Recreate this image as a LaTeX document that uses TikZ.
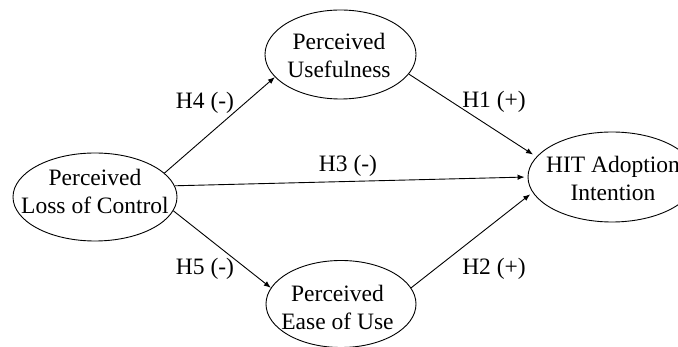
\documentclass[tikz,border=0pt]{standalone}
\usepackage{fontspec}
\setmainfont{Liberation Serif}
\usetikzlibrary{shapes.geometric,arrows.meta}
\begin{document}
\begin{tikzpicture}[x=1pt,y=-1pt,
  oval/.style={draw=black,line width=0.9pt,ellipse,inner sep=0pt},
  txt/.style={align=center,inner sep=0pt,font=\fontsize{23.5}{28}\selectfont},
  hlab/.style={anchor=base,inner sep=0pt,font=\fontsize{23.5}{28}\selectfont},
  arr/.style={line width=0.9pt,-{Latex[length=7pt,width=5.5pt]}}]
\useasboundingbox (0,0) rectangle (678,347);
\fill[white] (0,0) rectangle (678,347);
\clip (0,0) rectangle (678,347);
% ellipses
\node[oval,minimum width=164pt,minimum height=88pt] (loc) at (95,197) {};
\node[oval,minimum width=151pt,minimum height=89pt] (pu) at (340.5,54.5) {};
\node[oval,minimum width=150pt,minimum height=87pt] (peou) at (341,304) {};
\node[oval,minimum width=168pt,minimum height=90pt] (hit) at (612,177) {};
% texts
\node[txt] (locT) at (95,191) {Perceived\\Loss of Control};
\node[txt] (puT) at (339,55) {Perceived\\Usefulness};
\node[txt] (peouT) at (337.5,307) {Perceived\\Ease of Use};
\node[txt] (hitT) at (613,178) {HIT Adoption\\Intention};
% connectors
\draw[arr] (loc.19) -- (pu.199);
\draw[arr,shorten >=3pt] (loc.8) -- (hit.180);
\draw[arr] (loc.-10.6) -- (peou.167);
\draw[arr,shorten >=4pt] (pu.-16.7) -- (hit.165);
\draw[arr,shorten >=3pt] (peou.13.4) -- (hit.191);
% labels
\node[hlab] (h4) at (205,109) {H4 (-)};
\node[hlab] (h1) at (494,108) {H1 (+)};
\node[hlab] (h3) at (348,172) {H3 (-)};
\node[hlab] (h5) at (205,275) {H5 (-)};
\node[hlab] (h2) at (494,275) {H2 (+)};
\end{tikzpicture}
\end{document}
